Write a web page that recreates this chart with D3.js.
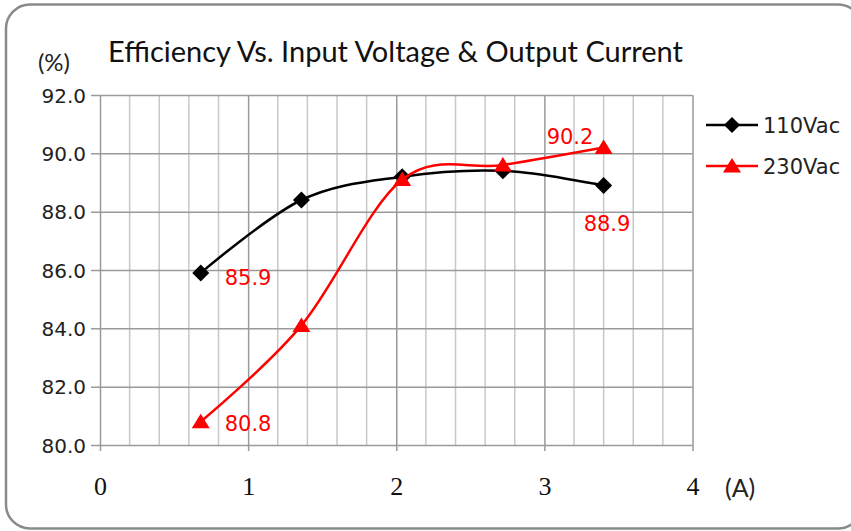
<!DOCTYPE html>
<html>
<head>
<meta charset="utf-8">
<script src="https://cdn.jsdelivr.net/npm/d3@7"></script>
<style>
  html, body { margin: 0; padding: 0; background: #fff; }
  svg { display: block; }
</style>
</head>
<body>
<svg id="chart" width="851" height="531"></svg>
<script>
// ---- data ----
const title = "Efficiency Vs. Input Voltage & Output Current";
const currents = [0.68, 1.36, 2.04, 2.72, 3.4];
const eff110 = [85.9, 88.4, 89.2, 89.4, 88.9];
const eff230 = [80.8, 84.1, 89.1, 89.6, 90.2];
const seriesNames = ["110Vac", "230Vac"];
const yTicks = [80, 82, 84, 86, 88, 90, 92];
const xTicks = [0, 1, 2, 3, 4];
const yUnit = "(%)";
const xUnit = "(A)";

const svg = d3.select("#chart");
const x = d3.scaleLinear().domain([0, 4]).range([100, 692.5]);
const y = d3.scaleLinear().domain([80, 92]).range([445, 95]);

// frame
svg.append("rect")
  .attr("x", 6).attr("y", 4.5).attr("width", 856).attr("height", 524)
  .attr("rx", 24).attr("ry", 24)
  .attr("fill", "#fff").attr("stroke", "#8a8a8a").attr("stroke-width", 2.5);

// minor vertical grid
const minor = d3.range(0, 4.0001, 0.2).filter(v => Math.abs(v - Math.round(v)) > 1e-6);
svg.append("g").selectAll("line").data(minor).join("line")
  .attr("x1", d => x(d)).attr("x2", d => x(d))
  .attr("y1", y(92)).attr("y2", y(80))
  .attr("stroke", "#c8c8c8").attr("stroke-width", 1.5);

// x axis (major vertical grid + ticks)
const xAxis = d3.axisBottom(x).tickValues(xTicks).tickSize(-(y(80) - y(92))).tickPadding(20)
  .tickFormat(d3.format("d"));
const gx = svg.append("g").attr("transform", `translate(0,${y(80)})`).call(xAxis);
gx.select(".domain").remove();
gx.selectAll(".tick line").attr("stroke", "#9a9a9a").attr("stroke-width", 1.5);
gx.selectAll(".tick").append("line").attr("y1", 0).attr("y2", 6)
  .attr("stroke", "#9a9a9a").attr("stroke-width", 1.5);
gx.selectAll(".tick text")
  .attr("y", 50).attr("dy", null)
  .style("font-family", "'Liberation Serif', serif").style("font-size", "26px").attr("fill", "#111");

// y axis (horizontal grid)
const yAxis = d3.axisLeft(y).tickValues(yTicks).tickSize(-(x(4) - x(0))).tickFormat(d3.format(".1f"));
const gy = svg.append("g").attr("transform", `translate(${x(0)},0)`).call(yAxis);
gy.select(".domain").remove();
gy.selectAll(".tick line").attr("x1", -9).attr("stroke", "#9a9a9a").attr("stroke-width", 1.5);
gy.selectAll(".tick text")
  .attr("x", -14).attr("dy", "0.36em")
  .style("font-family", "'DejaVu Sans', sans-serif").style("font-size", "20px").attr("fill", "#222");

// title & units
svg.append("text").attr("x", 108).attr("y", 62).text(title)
  .style("font-family", "Lato, sans-serif").style("font-size", "29px").attr("fill", "#111");
svg.append("text").attr("x", 70).attr("y", 71).attr("text-anchor", "end").text(yUnit)
  .style("font-family", "Lato, sans-serif").style("font-size", "24px").attr("fill", "#222");
svg.append("text").attr("x", 725).attr("y", 497).text(xUnit)
  .style("font-family", "Lato, sans-serif").style("font-size", "25px").attr("fill", "#222");

// series
const curve = d3.curveCardinal.tension(0);
const line = d3.line().x(d => x(d[0])).y(d => y(d[1])).curve(curve);
const s110 = currents.map((c, i) => [c, eff110[i]]);
const s230 = currents.map((c, i) => [c, eff230[i]]);

const diamond = (cx, cy, r) => `M${cx},${cy - r}L${cx + r},${cy}L${cx},${cy + r}L${cx - r},${cy}Z`;
const triangle = (cx, cy) => `M${cx},${cy - 8}L${cx + 9},${cy + 6.5}L${cx - 9},${cy + 6.5}Z`;

svg.append("path").datum(s110).attr("d", line)
  .attr("fill", "none").attr("stroke", "#000").attr("stroke-width", 2.5);
svg.append("g").selectAll("path").data(s110).join("path")
  .attr("d", d => diamond(x(d[0]), y(d[1]), 8.5)).attr("fill", "#000");

svg.append("path").datum(s230).attr("d", line)
  .attr("fill", "none").attr("stroke", "#ff0000").attr("stroke-width", 2.5);
svg.append("g").selectAll("path").data(s230).join("path")
  .attr("d", d => triangle(x(d[0]), y(d[1]))).attr("fill", "#ff0000");

// data labels
const labelStyle = sel => sel.style("font-family", "'DejaVu Sans', sans-serif")
  .style("font-size", "21px").attr("fill", "#ff0000");
const lbl = [
  { p: s110[0], dx: 24, dy: 12 },
  { p: s230[0], dx: 24, dy: 9.5 },
  { p: s230[4], dx: -57, dy: -3.5 },
  { p: s110[4], dx: -20, dy: 46 }
];
svg.append("g").selectAll("text").data(lbl).join("text")
  .attr("x", d => x(d.p[0]) + d.dx).attr("y", d => y(d.p[1]) + d.dy)
  .text(d => d3.format(".1f")(d.p[1])).call(labelStyle);

// legend
const leg = svg.append("g");
[0, 1].forEach(i => {
  const cy = 125 + i * 41;
  leg.append("line").attr("x1", 706).attr("x2", 758).attr("y1", cy).attr("y2", cy)
    .attr("stroke", i === 0 ? "#000" : "#ff0000").attr("stroke-width", 2.5);
  leg.append("path").attr("d", i === 0 ? diamond(732, cy, 8) : triangle(732, cy))
    .attr("fill", i === 0 ? "#000" : "#ff0000");
  leg.append("text").attr("x", 763).attr("y", cy + 8).text(seriesNames[i])
    .style("font-family", "'DejaVu Sans', sans-serif").style("font-size", "21px").attr("fill", "#222");
});
</script>
</body>
</html>
